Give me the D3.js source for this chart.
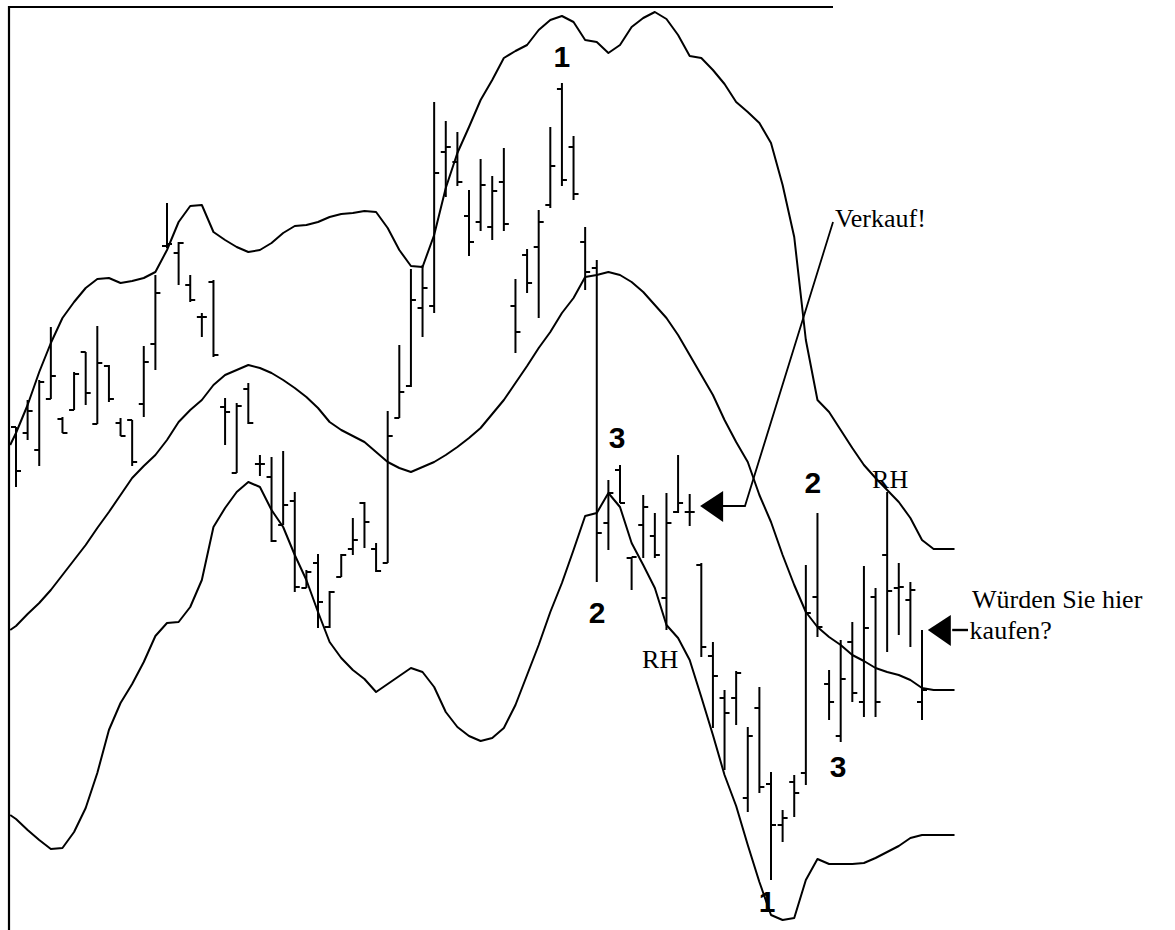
<!DOCTYPE html>
<html>
<head>
<meta charset="utf-8">
<script src="https://cdn.jsdelivr.net/npm/d3@7"></script>
<style>
  html, body { margin: 0; padding: 0; background: #fff; }
  svg { display: block; }
</style>
</head>
<body>
<svg id="chart" width="1175" height="930"></svg>
<script>
// ---------- DATA (price units) ----------
const barOpen  = [57.3,56.7,55.0,60.1,58.1,59.0,64.8,57.6,63.4,57.7,58.0,59.6,65.6,75.4,74.7,71.5,68.3,71.8,59.3,52.7,61.1,53.6,52.3,47.5,49.9,41.2,43.7,37.3,42.3,45.1,49.7,45.1,43.7,58.2,61.4,69.2,69.4,84.8,83.8,78.4,77.8,77.3,81.8,69.4,74.5,75.3,79.5,91.1,85.3,75.8,73.2,47.7,53.0,44.2,47.5,46.4,40.2,48.8,48.8,43.5,34.4,30.2,30.2,20.2,29.2,21.6,17.5,21.8,22.7,40.3,31.6,26.4,35.8,29.8,40.3,44.5,41.2,40.0,29.8];
const barHigh  = [57.3,60.0,62.0,67.3,58.3,62.8,64.8,67.4,63.5,58.2,58.0,65.4,72.5,79.7,75.8,72.5,68.7,72.0,60.2,59.7,61.7,54.5,54.3,54.9,50.8,43.0,44.6,40.9,44.6,48.2,49.8,45.7,58.9,65.5,73.1,73.5,89.8,87.9,86.8,81.0,84.1,82.4,85.2,72.1,75.1,79.0,87.3,91.7,86.4,77.3,74.0,52.0,53.5,44.3,50.5,48.7,50.7,54.5,50.6,43.7,35.8,31.0,32.9,27.3,31.3,22.8,19.0,22.5,43.5,48.7,33.0,36.0,37.8,43.4,41.2,50.8,43.7,41.8,37.0];
const barLow   = [51.3,56.0,53.4,60.1,56.7,59.0,59.5,57.6,59.8,56.4,53.4,58.3,63.0,75.2,71.5,69.8,66.3,64.3,55.5,52.7,57.6,52.4,45.8,47.5,40.8,41.2,37.2,37.2,42.3,44.5,45.2,42.8,43.7,58.2,61.3,66.3,68.7,80.3,81.4,74.4,76.9,76.0,76.9,64.7,70.7,68.2,79.2,81.4,80.0,71.0,41.8,45.0,49.7,41.0,44.2,44.2,37.0,48.7,47.4,34.3,27.2,23.0,27.5,18.8,20.7,12.0,15.8,18.3,21.5,36.3,28.0,25.8,29.8,28.3,28.3,34.8,36.5,35.3,28.0];
const barClose = [52.9,58.9,61.8,62.4,56.7,62.6,60.7,63.7,60.1,56.4,53.8,63.8,70.7,75.6,75.7,70.0,68.3,64.5,58.8,59.4,57.7,53.6,45.9,49.5,41.3,42.8,39.8,40.8,44.5,46.0,47.8,42.9,56.4,60.8,70.0,71.2,82.7,85.3,81.8,75.8,81.5,80.9,77.6,66.8,71.7,77.8,83.4,82.0,80.6,72.8,46.7,50.7,49.7,44.3,49.3,44.5,47.7,49.7,48.8,35.3,32.4,28.7,32.7,26.4,21.3,17.5,18.2,20.7,38.7,37.3,29.8,32.1,30.7,37.2,29.8,40.9,41.3,41.0,31.0];

// band positions (bar index units) and band values
const bandIndex = [-0.5].concat(d3.range(0, 81)).concat([80.8]);
const upperBand = [55.5,56.7,59.5,62.8,65.7,68.2,69.8,71.2,72.1,72.2,71.7,71.9,72.2,72.8,75.0,77.8,79.4,79.5,76.8,76.0,75.3,74.8,75.0,75.7,76.7,77.4,77.5,77.8,78.3,78.6,78.7,78.9,78.8,77.2,75.0,73.4,73.3,76.5,81.2,84.7,87.3,90.0,92.0,94.2,94.9,95.5,97.0,98.0,98.4,97.8,96.0,95.8,94.7,95.5,97.3,98.2,98.8,98.1,96.5,94.4,94.2,93.0,91.6,89.8,88.8,87.7,85.7,81.5,76.3,66.0,60.0,58.8,57.0,55.2,53.5,52.2,51.0,49.8,48.2,46.0,45.1,45.1,45.1];
const middleBand = [37.0,37.4,38.6,39.7,41.0,42.5,44.0,45.5,47.2,48.8,50.5,52.2,53.4,54.5,56.0,57.8,59.0,60.0,61.5,62.5,63.0,63.5,63.2,62.7,62.0,61.2,60.3,59.2,57.8,57.0,56.4,55.8,54.8,53.8,53.2,52.8,53.3,53.8,54.5,55.3,56.2,57.2,58.6,60.0,61.7,63.4,65.2,66.8,68.7,70.2,72.3,72.5,72.8,72.5,71.8,70.8,69.5,68.2,66.5,64.5,62.5,60.5,58.0,55.8,53.8,50.5,47.8,44.5,41.5,38.8,37.3,36.3,35.5,34.5,33.9,33.2,32.8,32.5,32.0,31.2,31.0,31.0,31.0];
const lowerBand = [18.5,18.1,17.0,16.0,15.1,15.2,16.8,19.2,22.7,27.0,29.7,31.6,33.8,36.4,37.7,37.8,39.3,42.0,47.3,49.2,50.8,51.8,51.3,49.0,47.3,44.5,42.0,38.8,35.8,34.2,33.0,32.1,30.8,31.6,32.4,33.2,32.8,31.3,28.8,27.3,26.4,25.9,26.2,27.2,29.5,32.5,35.5,38.8,41.7,45.0,48.4,48.7,50.7,49.3,45.7,43.5,41.2,37.5,36.2,34.0,30.3,26.5,22.5,19.4,15.5,11.8,8.5,8.0,8.2,12.0,14.1,13.6,13.6,13.6,13.7,14.2,14.8,15.4,16.2,16.5,16.5,16.5,16.5];

// annotation labels: text, bar index, price, kind
const labelText  = ["1", "3", "2", "RH", "2", "RH", "3", "1", "Verkauf!", "Würden Sie hier", "kaufen?"];
const labelIndex = [47.0, 51.74, 50.02, 53.9, 68.6, 73.7, 70.77, 64.66, 70.5, 82.3, 82.1];
const labelPrice = [93.3, 55.2, 37.7, 33.2, 50.7, 51.2, 22.3, 8.8, 77.3, 39.2, 36.1];
const labelKind  = ["num","num","num","serif","num","serif","num","num","serif","serif","serif"];

// arrows (tip index, tip price)
const arrowIndex = [58.9, 78.5];
const arrowPrice = [49.4, 37.0];
// "Verkauf!" pointer line path (index, price)
const sellLineIndex = [60.8, 62.76, 70.34];
const sellLinePrice = [49.4, 49.4, 77.8];
// "kaufen?" pointer line
const buyLineIndex = [80.6, 81.96];
const buyLinePrice = [37.0, 37.0];

// ---------- DRAW ----------
const svg = d3.select("#chart");
const x = d3.scaleLinear().domain([0, 78]).range([16, 922]);
const y = d3.scaleLinear().domain([7, 100]).range([930, 0]);

svg.append("rect").attr("width", 1175).attr("height", 930).attr("fill", "#fff");

// frame (top & left)
svg.append("path")
  .attr("d", d3.line()([[9, 930], [9, 7], [833, 7]]))
  .attr("fill", "none").attr("stroke", "#000").attr("stroke-width", 2.2);

// bands
const bandLine = d3.line().x(d => x(d[0])).y(d => y(d[1]));
[upperBand, middleBand, lowerBand].forEach(band => {
  svg.append("path")
    .datum(bandIndex.map((b, i) => [b, band[i]]))
    .attr("d", bandLine)
    .attr("fill", "none").attr("stroke", "#000").attr("stroke-width", 2)
    .attr("stroke-linejoin", "round");
});

// OHLC bars
const bars = barOpen.map((o, i) => ({i, o, h: barHigh[i], l: barLow[i], c: barClose[i]}));
const g = svg.append("g").attr("stroke", "#000").attr("stroke-width", 2);
g.selectAll("line.hl").data(bars).join("line")
  .attr("x1", d => x(d.i)).attr("x2", d => x(d.i))
  .attr("y1", d => y(d.h)).attr("y2", d => y(d.l));
g.selectAll("line.op").data(bars).join("line")
  .attr("x1", d => x(d.i) - 5).attr("x2", d => x(d.i))
  .attr("y1", d => y(d.o)).attr("y2", d => y(d.o));
g.selectAll("line.cl").data(bars).join("line")
  .attr("x1", d => x(d.i)).attr("x2", d => x(d.i) + 5)
  .attr("y1", d => y(d.c)).attr("y2", d => y(d.c));

// pointer lines
svg.append("path")
  .attr("d", d3.line()(sellLineIndex.map((v, i) => [x(v), y(sellLinePrice[i])])))
  .attr("fill", "none").attr("stroke", "#000").attr("stroke-width", 1.8);
svg.append("path")
  .attr("d", d3.line()(buyLineIndex.map((v, i) => [x(v), y(buyLinePrice[i])])))
  .attr("fill", "none").attr("stroke", "#000").attr("stroke-width", 2.4);

// arrow heads
arrowIndex.forEach((ai, k) => {
  const tx = x(ai), ty = y(arrowPrice[k]);
  svg.append("path")
    .attr("d", `M${tx},${ty} L${tx + 23},${ty - 15} L${tx + 23},${ty + 16} Z`)
    .attr("fill", "#000");
});

// labels
labelText.forEach((t, k) => {
  const isNum = labelKind[k] === "num";
  svg.append("text")
    .attr("x", x(labelIndex[k]))
    .attr("y", y(labelPrice[k]))
    .attr("text-anchor", isNum ? "middle" : "start")
    .attr("font-family", isNum ? "'Liberation Sans', Arial, sans-serif" : "'Liberation Serif', 'Times New Roman', serif")
    .attr("font-weight", isNum ? "bold" : "normal")
    .attr("font-size", isNum ? 30 : 26)
    .attr("fill", "#000")
    .text(t);
});
</script>
</body>
</html>
